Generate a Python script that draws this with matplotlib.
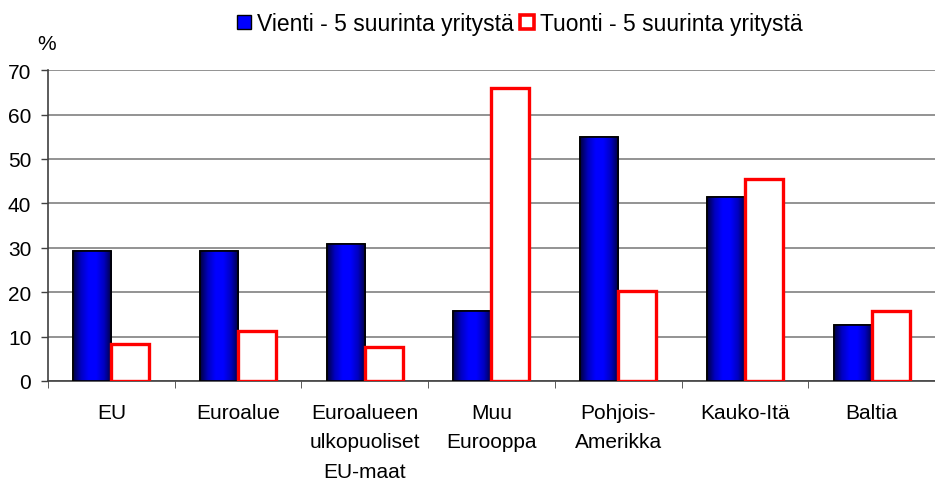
import numpy as np
import matplotlib

matplotlib.use('Agg')

import matplotlib.pyplot as plt
from matplotlib.colors import LinearSegmentedColormap
from matplotlib.lines import Line2D

plt.rcParams['font.family'] = ['Liberation Sans', 'DejaVu Sans']

categories = ['EU', 'Euroalue', 'Euroalueen\nulkopuoliset\nEU-maat', 'Muu\nEurooppa',
              'Pohjois-\nAmerikka', 'Kauko-Itä', 'Baltia']
vienti = [29.3, 29.3, 30.8, 15.8, 54.9, 41.4, 12.6]
tuonti = [8.3, 11.3, 7.7, 65.9, 20.3, 45.5, 15.8]
yticks = [0, 10, 20, 30, 40, 50, 60, 70]

FS = 15

fig = plt.figure(figsize=(9.35, 4.81), dpi=100)
ax = fig.add_axes([0.0513, 0.206, 0.9487, 0.646])

x = np.arange(len(categories))
w = 0.3
blue_bars = ax.bar(x - w / 2, vienti, w, color='#0000ff', edgecolor='black', linewidth=1.2,
                   zorder=3)
red_bars = ax.bar(x + w / 2, tuonti, w, color='white', edgecolor='#ff0000', linewidth=2.4,
                  zorder=4)

# gradient fill for the blue bars (dark edges, bright centre)
cmap = LinearSegmentedColormap.from_list('bl', ['#000040', '#0000c0', '#0000ff', '#0000ff', '#0000c0', '#000040'])
grad = np.linspace(0, 1, 100).reshape(1, -1)
for b in blue_bars:
    im = ax.imshow(grad, cmap=cmap, aspect='auto', zorder=3.5,
                   extent=[b.get_x(), b.get_x() + b.get_width(), 0, b.get_height()])
    im.set_clip_path(b)
    ax.bar(b.get_x() + b.get_width() / 2, b.get_height(), b.get_width(), fill=False,
           edgecolor='black', linewidth=1.2, zorder=3.6)

ax.set_xlim(-0.5, len(categories) - 0.5)
ax.set_ylim(0, 70)
ax.set_yticks(yticks)
ax.tick_params(axis='y', direction='out', length=5, width=1, color='#404040', labelsize=FS, pad=7)
ax.set_xticks(x)
ax.set_xticklabels(categories, fontsize=FS, linespacing=1.68)
ax.tick_params(axis='x', length=0, pad=16)
ax.set_xticks(np.arange(len(categories) + 1) - 0.5, minor=True)
ax.tick_params(axis='x', which='minor', direction='out', length=5, color='#404040')

ax.grid(axis='y', color='#808080', linewidth=1.2, zorder=0)
ax.set_axisbelow(True)
for s in ['top', 'right']:
    ax.spines[s].set_visible(False)
ax.spines['left'].set_color('#404040')
ax.spines['bottom'].set_color('#404040')
ax.spines['left'].set_linewidth(1.2)
ax.spines['bottom'].set_linewidth(1.2)

fig.text(0.050, 0.907, '%', fontsize=FS, ha='center', va='center')

h1 = Line2D([], [], marker='s', linestyle='none', markersize=10, markerfacecolor='#0000ff',
            markeredgecolor='black', markeredgewidth=1)
h2 = Line2D([], [], marker='s', linestyle='none', markersize=10, markerfacecolor='white',
            markeredgecolor='#ff0000', markeredgewidth=2.6)
fig.legend([h1, h2], ['Vienti - 5 suurinta yritystä', 'Tuonti - 5 suurinta yritystä'],
           loc='center', bbox_to_anchor=(0.556, 0.95), ncol=2, frameon=False, fontsize=16.5,
           handlelength=0.6, handletextpad=0.25, columnspacing=0.3)

plt.savefig('out.png', dpi=100)
